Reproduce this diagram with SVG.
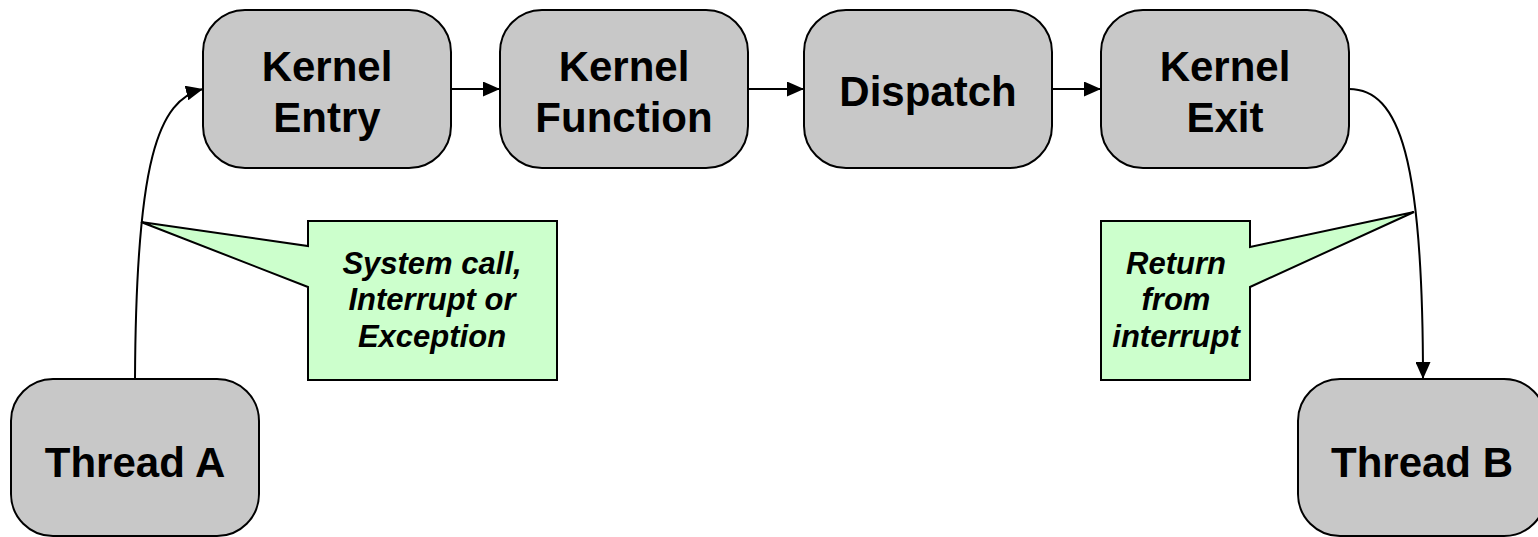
<svg xmlns="http://www.w3.org/2000/svg" width="1538" height="537" viewBox="0 0 1538 537">
<defs>
<style>
.box{fill:#C8C8C8;stroke:#000;stroke-width:2}
.lbl{font-family:"Liberation Sans",Arial,sans-serif;font-weight:bold;font-size:42px;fill:#000;text-anchor:middle}
.call{fill:#CCFFCC;stroke:#000;stroke-width:2;stroke-linejoin:miter}
.ctxt{font-family:"Liberation Sans",Arial,sans-serif;font-weight:bold;font-style:italic;font-size:31px;fill:#000;text-anchor:middle}
.con{fill:none;stroke:#000;stroke-width:2}
</style>
<marker id="ah" markerWidth="17" markerHeight="15" refX="17" refY="7.5" orient="auto" markerUnits="userSpaceOnUse">
<path d="M0,0 L17,7.5 L0,15 Z" fill="#000"/>
</marker>
</defs>
<rect width="1538" height="537" fill="#fff"/>
<g id="connectors">
<path class="con" d="M451,89 L500,89" marker-end="url(#ah)"/>
<path class="con" d="M748,89 L804,89" marker-end="url(#ah)"/>
<path class="con" d="M1052,89 L1101,89" marker-end="url(#ah)"/>
<path class="con" d="M135,379 C136,160 158,100 203,89" marker-end="url(#ah)"/>
<path class="con" d="M1349,89 C1400,89 1423,160 1423,379" marker-end="url(#ah)"/>
</g>
<g id="kernel-entry">
<rect class="box" x="203" y="10" width="248" height="158" rx="42"/>
<text class="lbl" x="327" y="81">Kernel</text>
<text class="lbl" x="327" y="132">Entry</text>
</g>
<g id="kernel-function">
<rect class="box" x="500" y="10" width="248" height="158" rx="42"/>
<text class="lbl" x="624" y="81">Kernel</text>
<text class="lbl" x="624" y="132">Function</text>
</g>
<g id="dispatch">
<rect class="box" x="804" y="10" width="248" height="158" rx="42"/>
<text class="lbl" x="928" y="106">Dispatch</text>
</g>
<g id="kernel-exit">
<rect class="box" x="1101" y="10" width="248" height="158" rx="42"/>
<text class="lbl" x="1225" y="81">Kernel</text>
<text class="lbl" x="1225" y="132">Exit</text>
</g>
<g id="thread-a">
<rect class="box" x="11" y="379" width="248" height="157" rx="42"/>
<text class="lbl" x="135" y="477">Thread A</text>
</g>
<g id="thread-b">
<rect class="box" x="1298" y="379" width="248" height="157" rx="42"/>
<text class="lbl" x="1422" y="477">Thread B</text>
</g>
<g id="callout-syscall">
<path class="call" d="M308,221 L557,221 L557,380 L308,380 L308,287 L141,222 L308,246 Z"/>
<text class="ctxt" x="432" y="274">System call,</text>
<text class="ctxt" x="432" y="310">Interrupt or</text>
<text class="ctxt" x="432" y="347">Exception</text>
</g>
<g id="callout-return">
<path class="call" d="M1101,221 L1250,221 L1250,247 L1414,212 L1250,287 L1250,380 L1101,380 Z"/>
<text class="ctxt" x="1176" y="274">Return</text>
<text class="ctxt" x="1176" y="310">from</text>
<text class="ctxt" x="1176" y="347">interrupt</text>
</g>
</svg>
